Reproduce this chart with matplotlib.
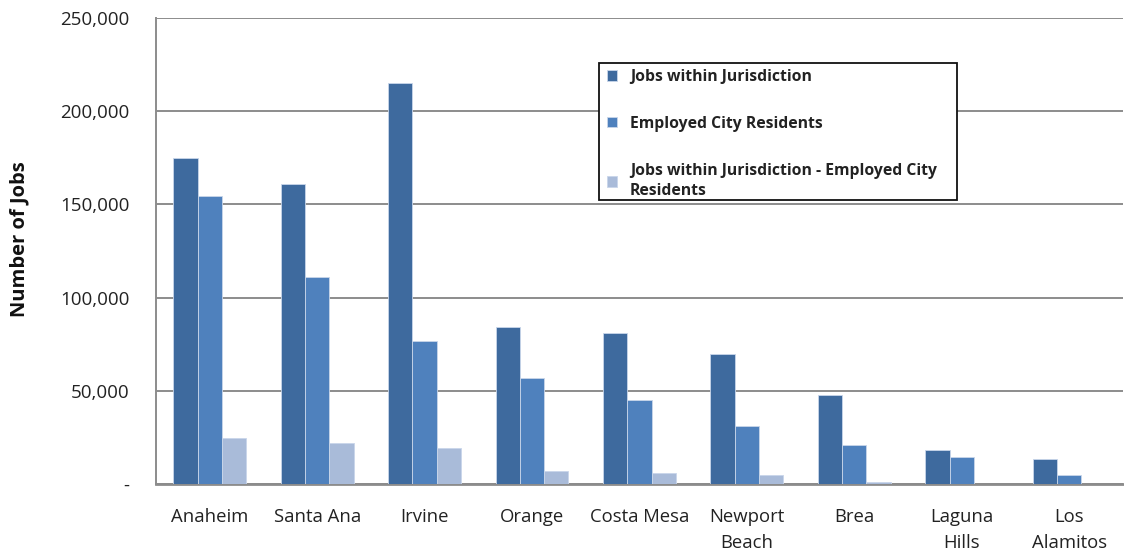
import matplotlib.pyplot as plt
import numpy as np
from matplotlib.ticker import FuncFormatter
from matplotlib.patches import Rectangle

cities = ["Anaheim", "Santa Ana", "Irvine", "Orange", "Costa Mesa",
          "Newport\nBeach", "Brea", "Laguna\nHills", "Los\nAlamitos"]
jobs_within = [175000, 161000, 215000, 84000, 81000, 70000, 47500, 18000, 13500]
employed_residents = [154500, 111000, 76500, 57000, 44800, 31300, 21000, 14700, 5000]
net_difference = [24800, 22000, 19500, 7000, 6000, 4800, 1200, 0, 0]

series_labels = ["Jobs within Jurisdiction",
                 "Employed City Residents",
                 "Jobs within Jurisdiction - Employed City\nResidents"]
series_colors = ["#3E6A9E", "#4F81BD", "#A9BBD9"]

plt.rcParams['font.family'] = ['Open Sans', 'DejaVu Sans']

fig = plt.figure(figsize=(11.24, 5.52), dpi=100)
ax = fig.add_axes([0.1388, 0.1232, 0.8602, 0.8442])

x = np.arange(len(cities))
width = 0.226
for i, (vals, lab, col) in enumerate(zip([jobs_within, employed_residents, net_difference],
                                         series_labels, series_colors)):
    ax.bar(x + (i - 1) * width, vals, width, color=col, label=lab,
           edgecolor="#C9D6EA", linewidth=0.6, zorder=3)

ax.set_xlim(-0.5, len(cities) - 0.5)
ax.set_ylim(0, 250000)
ax.set_yticks(np.arange(0, 250001, 50000))
ax.yaxis.set_major_formatter(FuncFormatter(lambda v, p: "-" if v == 0 else f"{int(v):,}"))
ax.set_xticks(x)
ax.set_xticklabels(cities, fontsize=13.3, color="#222222", linespacing=1.6)
ax.tick_params(axis="y", labelsize=13.5, labelcolor="#222222", length=0, pad=19)
ax.tick_params(axis="x", length=0, pad=17)

ax.grid(axis="y", color="#8C8C8C", linewidth=1.4, zorder=0)
for s in ["top", "right"]:
    ax.spines[s].set_visible(False)
ax.spines["left"].set_color("#8C8C8C")
ax.spines["left"].set_linewidth(1.4)
ax.spines["bottom"].set_color("#8C8C8C")
ax.spines["bottom"].set_linewidth(2.0)

ax.set_ylabel("Number of Jobs", fontsize=14.5, fontweight="bold", color="#111111")
ax.yaxis.set_label_coords(-0.131, 0.526)

# legend box drawn separately so its padding can be set freely
box = Rectangle((0.4577, 0.6094), 0.3709, 0.294, transform=ax.transAxes,
                facecolor="white", edgecolor="#111111", linewidth=1.3, zorder=5)
ax.add_patch(box)
leg = ax.legend(loc="upper left", bbox_to_anchor=(0.466, 0.891), frameon=False,
                prop={"weight": "bold", "size": 11.3}, handlelength=0.65,
                handleheight=0.65, handletextpad=0.85, labelspacing=1.97,
                borderpad=0, borderaxespad=0)
leg.set_zorder(6)
for t in leg.get_texts():
    t.set_color("#222222")
    t.set_linespacing(1.38)

fig.savefig("out.png", dpi=100)
